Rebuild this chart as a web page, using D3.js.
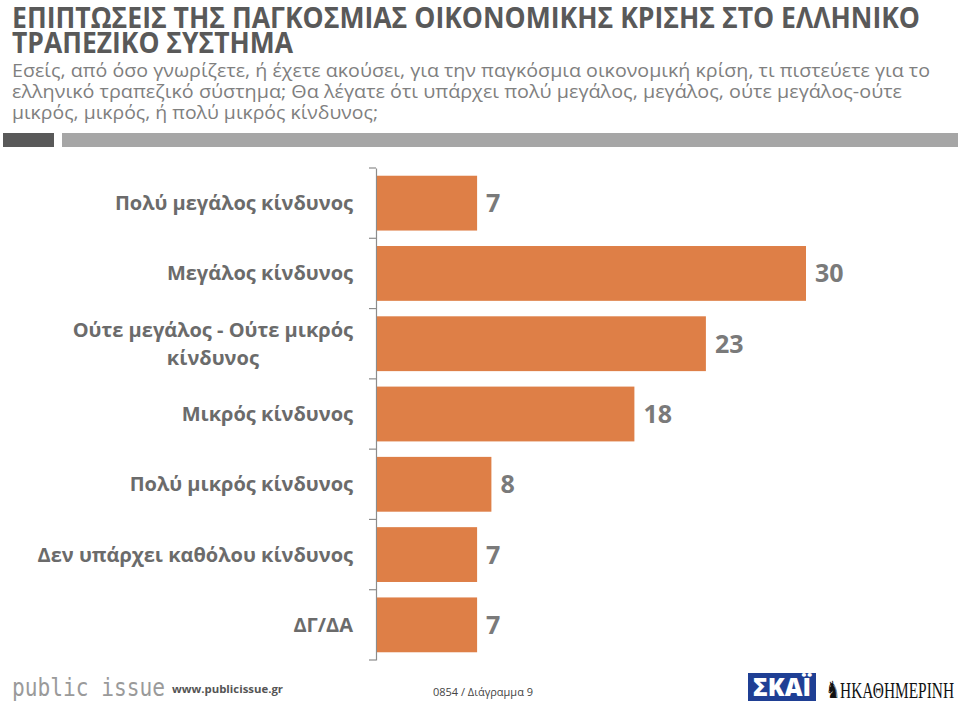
<!DOCTYPE html>
<html>
<head>
<meta charset="utf-8">
<script src="https://cdn.jsdelivr.net/npm/d3@7"></script>
<style>
  html, body { margin: 0; padding: 0; background: #ffffff; }
  svg { display: block; }
</style>
</head>
<body>
<svg id="chart" width="960" height="705"></svg>
<script>
// ---- DATA ----
const titleLines = ["ΕΠΙΠΤΩΣΕΙΣ ΤΗΣ ΠΑΓΚΟΣΜΙΑΣ ΟΙΚΟΝΟΜΙΚΗΣ ΚΡΙΣΗΣ ΣΤΟ ΕΛΛΗΝΙΚΟ", "ΤΡΑΠΕΖΙΚΟ ΣΥΣΤΗΜΑ"];
const subtitleLines = [
  "Εσείς, από όσο γνωρίζετε, ή έχετε ακούσει, για την παγκόσμια οικονομική κρίση, τι πιστεύετε για το",
  "ελληνικό τραπεζικό σύστημα; Θα λέγατε ότι υπάρχει πολύ μεγάλος, μεγάλος, ούτε μεγάλος-ούτε",
  "μικρός, μικρός, ή πολύ μικρός κίνδυνος;"
];
const categories = [
  "Πολύ μεγάλος κίνδυνος",
  "Μεγάλος κίνδυνος",
  "Ούτε μεγάλος - Ούτε μικρός|κίνδυνος",
  "Μικρός κίνδυνος",
  "Πολύ μικρός κίνδυνος",
  "Δεν υπάρχει καθόλου κίνδυνος",
  "ΔΓ/ΔΑ"
];
const values = [7, 30, 23, 18, 8, 7, 7];
const footerCode = "0854 / Διάγραμμα 9";

// ---- LAYOUT ----
const svg = d3.select("#chart");
const font = "'Open Sans', 'Noto Sans', sans-serif";

// Title
const titleWidths = [908, 281];
svg.selectAll("text.title").data(titleLines).join("text")
  .attr("class", "title")
  .attr("x", 12)
  .attr("y", (d, i) => 28 + i * 25)
  .attr("font-family", font)
  .attr("font-weight", 700)
  .attr("font-size", 29)
  .attr("fill", "#595959")
  .attr("textLength", (d, i) => titleWidths[i])
  .attr("lengthAdjust", "spacingAndGlyphs")
  .text(d => d);

// Subtitle
const subWidths = [918, 890, 366];
svg.selectAll("text.sub").data(subtitleLines).join("text")
  .attr("class", "sub")
  .attr("x", 12)
  .attr("y", (d, i) => 77 + i * 21)
  .attr("font-family", font)
  .attr("font-size", 18)
  .attr("fill", "#7f7f7f")
  .attr("textLength", (d, i) => subWidths[i])
  .attr("lengthAdjust", "spacingAndGlyphs")
  .text(d => d);

// Divider bars
svg.append("rect").attr("x", 3).attr("y", 133).attr("width", 51).attr("height", 14).attr("fill", "#595959");
svg.append("rect").attr("x", 62).attr("y", 133).attr("width", 896).attr("height", 14).attr("fill", "#a6a6a6");

// Scales
const x = d3.scaleLinear().domain([0, 30]).range([377, 806]);
const y = d3.scaleBand().domain(categories).range([168, 660]).paddingInner(0.22).paddingOuter(0.11);

// Axis
const axisX = 376;
const axis = svg.append("g").attr("transform", `translate(${axisX},0)`)
  .call(d3.axisLeft(y).tickSize(0).tickFormat(""));
axis.select(".domain").attr("stroke", "#8c8c8c").attr("stroke-width", 1.2);
const step = y.step();
const y0 = y.range()[0];
const boundaries = d3.range(categories.length + 1).map(i => y0 + i * step);
svg.selectAll("line.tick").data(boundaries).join("line")
  .attr("class", "tick")
  .attr("x1", axisX - 7).attr("x2", axisX)
  .attr("y1", d => d).attr("y2", d => d)
  .attr("stroke", "#8c8c8c").attr("stroke-width", 1.2);

// Bars
svg.selectAll("rect.bar").data(values).join("rect")
  .attr("class", "bar")
  .attr("x", x(0))
  .attr("y", (d, i) => y(categories[i]))
  .attr("width", d => x(d) - x(0))
  .attr("height", y.bandwidth())
  .attr("fill", "#DE7F47");

// Value labels
svg.selectAll("text.val").data(values).join("text")
  .attr("class", "val")
  .attr("x", d => x(d) + 9)
  .attr("y", (d, i) => y(categories[i]) + y.bandwidth() / 2 + 9)
  .attr("font-family", font)
  .attr("font-weight", 700)
  .attr("font-size", 25)
  .attr("fill", "#7a7a7a")
  .text(d => d);

// Category labels
const labelRight = 353;
categories.forEach((c, i) => {
  const lines = c.split("|");
  const cy = y(c) + y.bandwidth() / 2;
  const lh = 28;
  const g = svg.append("g");
  const texts = lines.map((ln, j) => g.append("text")
    .attr("y", cy + 7 + (j - (lines.length - 1) / 2) * lh)
    .attr("font-family", font)
    .attr("font-weight", 700)
    .attr("font-size", 20)
    .attr("fill", "#6b6b6b")
    .text(ln));
  if (lines.length === 1) {
    texts[0].attr("x", labelRight).attr("text-anchor", "end");
  } else {
    const maxW = d3.max(texts, t => t.node().getComputedTextLength());
    texts.forEach(t => t.attr("x", labelRight - maxW / 2).attr("text-anchor", "middle"));
  }
});

// Footer
svg.append("text").attr("x", 12).attr("y", 696)
  .attr("font-family", "'DejaVu Sans Mono', monospace")
  .attr("font-size", 24).attr("fill", "#9a9a9a")
  .attr("textLength", 153).attr("lengthAdjust", "spacingAndGlyphs")
  .text("public issue");
svg.append("text").attr("x", 172).attr("y", 693)
  .attr("font-family", font).attr("font-weight", 700)
  .attr("font-size", 11).attr("fill", "#555555")
  .attr("textLength", 111).attr("lengthAdjust", "spacingAndGlyphs")
  .text("www.publicissue.gr");
svg.append("text").attr("x", 433).attr("y", 696)
  .attr("font-family", font)
  .attr("font-size", 11).attr("fill", "#444444")
  .attr("textLength", 100).attr("lengthAdjust", "spacingAndGlyphs")
  .text(footerCode);

// SKAI logo
svg.append("rect").attr("x", 748).attr("y", 673).attr("width", 68).attr("height", 28).attr("fill", "#1f3f94");
svg.append("text").attr("x", 782).attr("y", 696).attr("text-anchor", "middle")
  .attr("font-family", font).attr("font-weight", 800)
  .attr("font-size", 24).attr("fill", "#ffffff")
  .attr("textLength", 58).attr("lengthAdjust", "spacingAndGlyphs")
  .text("ΣΚΑΪ");
// Kathimerini
svg.append("text").attr("x", 826).attr("y", 698)
  .attr("font-family", "'Liberation Serif', serif")
  .attr("font-size", 24).attr("fill", "#111111")
  .attr("textLength", 128).attr("lengthAdjust", "spacingAndGlyphs")
  .text("♞ΗΚΑΘΗΜΕΡΙΝΗ");
</script>
</body>
</html>
